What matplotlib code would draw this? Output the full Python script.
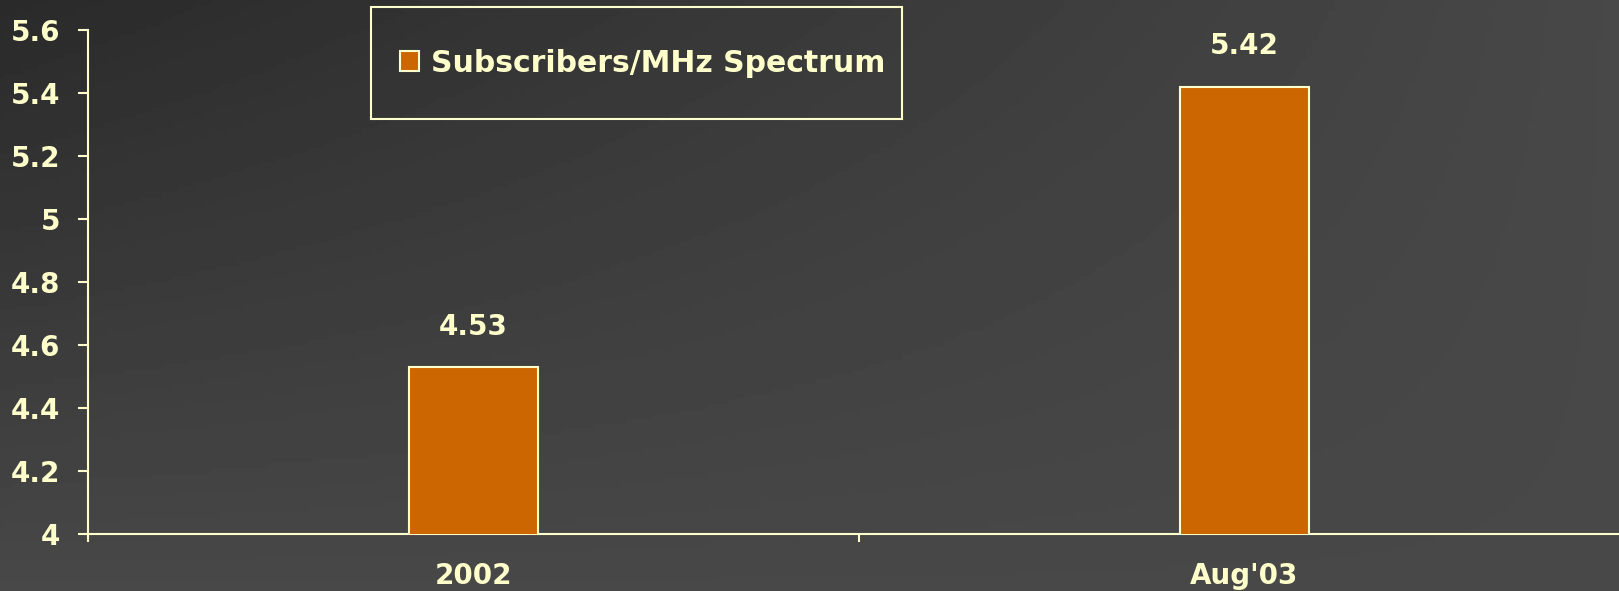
import numpy as np
import matplotlib
matplotlib.use('Agg')
import matplotlib.pyplot as plt
from matplotlib.patches import Rectangle

categories = ["2002", "Aug'03"]
values = [4.53, 5.42]
series_name = 'Subscribers/MHz Spectrum'
yticks = [4, 4.2, 4.4, 4.6, 4.8, 5, 5.2, 5.4, 5.6]
ytick_labels = ['4', '4.2', '4.4', '4.6', '4.8', '5', '5.2', '5.4', '5.6']

txt = '#FFFFCC'
bar_col = '#CC6600'
fs = 20

plt.rcParams['font.family'] = ['DejaVu Sans']
plt.rcParams['font.weight'] = 'bold'

W, H = 1619, 591
fig = plt.figure(figsize=(W / 100, H / 100), dpi=100)

# background gradient
bg = fig.add_axes([0, 0, 1, 1], zorder=-10)
gx, gy = np.meshgrid(np.linspace(0, 1, 300), np.linspace(0, 1, 120))
v = 42 + 30 * (1 - (1 - gx) * (1 - gy))
bg.imshow(v, cmap='gray', vmin=0, vmax=255, aspect='auto', extent=[0, 1, 1, 0])
bg.set_xlim(0, 1)
bg.set_ylim(1, 0)
bg.axis('off')

left, right, top, bottom = 88, 1630, 30, 534
ax = fig.add_axes([left / W, 1 - bottom / H, (right - left) / W, (bottom - top) / H])
ax.patch.set_alpha(0)

x = np.arange(len(categories))
bars = ax.bar(x, values, width=0.167, color=bar_col, edgecolor=txt, linewidth=1.5,
              label=series_name, zorder=3)
for xi, val in zip(x, values):
    ax.annotate(f'{val:.2f}', (xi, val), xytext=(0, 29), textcoords='offset points',
                ha='center', va='center', color=txt, fontsize=fs, fontweight='bold')

ax.set_xlim(-0.5, len(categories) - 0.5)
ax.set_ylim(4, 5.6)
ax.set_yticks(yticks)
ax.set_yticklabels(ytick_labels)
ax.set_xticks(np.arange(len(categories) + 1) - 0.5)
ax.set_xticklabels([])
ax.set_xticks(x, minor=True)
ax.set_xticklabels(categories, minor=True)

for s in ['top', 'right']:
    ax.spines[s].set_visible(False)
for s in ['left', 'bottom']:
    ax.spines[s].set_color(txt)
    ax.spines[s].set_linewidth(1.5)

ax.tick_params(axis='y', colors=txt, labelsize=fs, length=7, width=1.5, pad=13)
ax.tick_params(axis='x', which='major', colors=txt, length=6, width=1.5)
ax.tick_params(axis='x', which='minor', colors=txt, length=0, labelsize=fs, pad=20)
for lab in ax.get_yticklabels() + ax.get_xticklabels(minor=True):
    lab.set_fontweight('bold')

# legend box
fig.patches.append(Rectangle((371 / W, 1 - 119 / H), (902 - 371) / W, (119 - 7) / H,
                             transform=fig.transFigure, fill=False, edgecolor=txt,
                             linewidth=1.5))
leg = fig.legend(handles=[bars], labels=[series_name], loc='center left',
                 bbox_to_anchor=(400 / W, 1 - 63 / H), frameon=False,
                 borderpad=0, borderaxespad=0,
                 handlelength=0.65, handleheight=0.65, handletextpad=0.4,
                 prop={'size': 21.5, 'weight': 'bold'})
for t in leg.get_texts():
    t.set_color(txt)

fig.savefig('out.png', dpi=100)
